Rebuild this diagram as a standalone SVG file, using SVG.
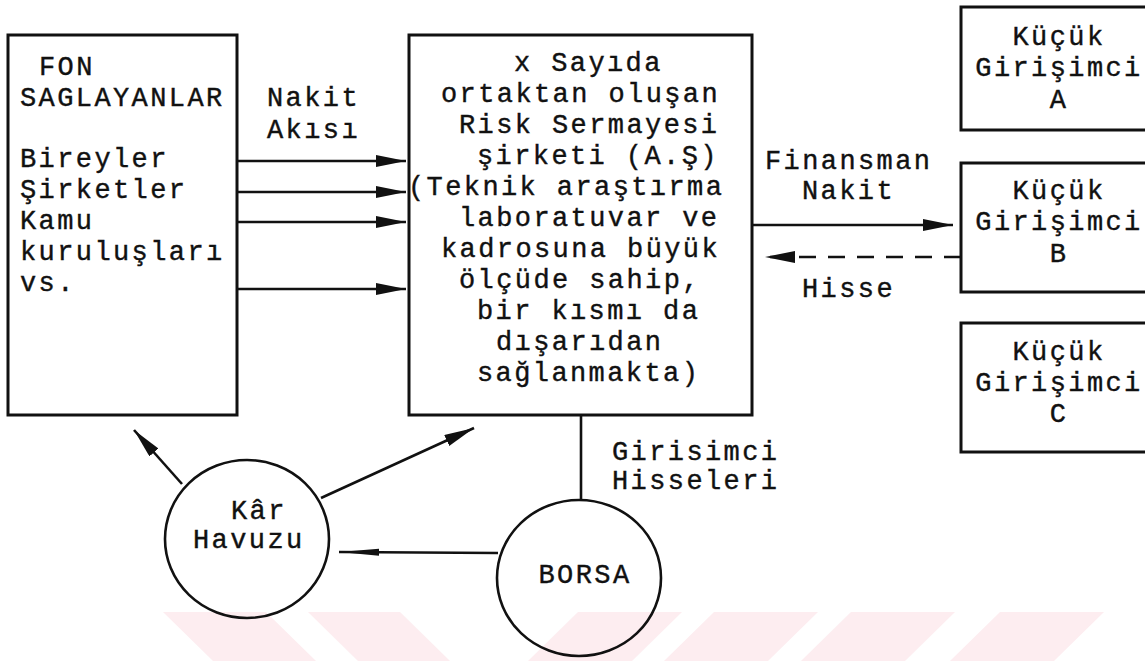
<svg xmlns="http://www.w3.org/2000/svg" width="1145" height="661" viewBox="0 0 1145 661">
  <style>
    .t{font-family:"Liberation Mono","DejaVu Sans Mono",monospace;font-size:27px;letter-spacing:2.4px;fill:#111;stroke:#111;stroke-width:0.4}
    .mid{text-anchor:middle}
    .box{fill:none;stroke:#111;stroke-width:3}
    .ln{fill:none;stroke:#111;stroke-width:2.6}
    .dash{stroke-dasharray:17 12}
    .wm{fill:#fdedf0}
  </style>
  <defs>
    <marker id="head" markerUnits="userSpaceOnUse" markerWidth="32" markerHeight="14" refX="30" refY="6" orient="auto">
      <path d="M0,0 L30,6 L0,12 Z" fill="#111"/>
    </marker>
    <marker id="headThin" markerUnits="userSpaceOnUse" markerWidth="42" markerHeight="10" refX="40" refY="4" orient="auto">
      <path d="M0,0.5 L40,4 L0,7.5 Z" fill="#111"/>
    </marker>
  </defs>

  <!-- background band pattern along the bottom edge -->
  <g id="bands">
    <polygon class="wm" points="163,612 266,612 316,661 213,661"/>
    <polygon class="wm" points="308,612 400,612 450,661 358,661"/>
    <polygon class="wm" points="578,612 682,612 632,661 528,661"/>
    <polygon class="wm" points="714,612 818,612 768,661 664,661"/>
    <polygon class="wm" points="851,612 955,612 905,661 801,661"/>
    <polygon class="wm" points="1000,612 1104,612 1054,661 950,661"/>
  </g>

  <g id="fon-saglayanlar">
    <rect class="box" x="8" y="35" width="229" height="380"/>
    <text class="t" x="39" y="75">FON</text>
    <text class="t" x="20" y="106">SAGLAYANLAR</text>
    <text class="t" x="20" y="167">Bireyler</text>
    <text class="t" x="20" y="198">Şirketler</text>
    <text class="t" x="20" y="229">Kamu</text>
    <text class="t" x="20" y="260">kuruluşları</text>
    <text class="t" x="20" y="291">vs.</text>
  </g>

  <g id="risk-sermayesi-sirketi">
    <rect class="box" x="409" y="35" width="343" height="380"/>
    <text class="t" x="514" y="71">x Sayıda</text>
    <text class="t" x="441" y="102">ortaktan oluşan</text>
    <text class="t" x="459" y="133">Risk Sermayesi</text>
    <text class="t" x="477" y="164">şirketi (A.Ş)</text>
    <text class="t" x="408" y="195">(Teknik araştırma</text>
    <text class="t" x="459" y="226">laboratuvar ve</text>
    <text class="t" x="441" y="257">kadrosuna büyük</text>
    <text class="t" x="459" y="288">ölçüde sahip,</text>
    <text class="t" x="477" y="319">bir kısmı da</text>
    <text class="t" x="496" y="350">dışarıdan</text>
    <text class="t" x="477" y="381">sağlanmakta)</text>
  </g>

  <g id="girisimci-a">
    <rect class="box" x="961" y="7" width="190" height="123"/>
    <text class="t mid" x="1059" y="45">Küçük</text>
    <text class="t mid" x="1059" y="76">Girişimci</text>
    <text class="t mid" x="1059" y="108">A</text>
  </g>

  <g id="girisimci-b">
    <rect class="box" x="961" y="163" width="190" height="129"/>
    <text class="t mid" x="1059" y="199">Küçük</text>
    <text class="t mid" x="1059" y="230">Girişimci</text>
    <text class="t mid" x="1059" y="262">B</text>
  </g>

  <g id="girisimci-c">
    <rect class="box" x="961" y="323" width="190" height="129"/>
    <text class="t mid" x="1059" y="360">Küçük</text>
    <text class="t mid" x="1059" y="391">Girişimci</text>
    <text class="t mid" x="1059" y="422">C</text>
  </g>

  <g id="kar-havuzu">
    <ellipse class="ln" cx="247" cy="539" rx="82" ry="79"/>
    <text class="t" x="231" y="519">Kâr</text>
    <text class="t" x="193" y="548">Havuzu</text>
  </g>

  <g id="borsa">
    <ellipse class="ln" cx="579" cy="578" rx="82" ry="78"/>
    <text class="t mid" x="585" y="583">BORSA</text>
  </g>

  <g id="connectors">
    <path class="ln" d="M237,161 H406" marker-end="url(#head)"/>
    <path class="ln" d="M237,192 H406" marker-end="url(#head)"/>
    <path class="ln" d="M237,222 H406" marker-end="url(#head)"/>
    <path class="ln" d="M237,289 H406" marker-end="url(#head)"/>
    <text class="t" x="267" y="106">Nakit</text>
    <text class="t" x="267" y="138">Akısı</text>

    <path class="ln" d="M752,225 H953" marker-end="url(#head)"/>
    <path class="ln dash" d="M961,257 H765" marker-end="url(#head)"/>
    <text class="t" x="765" y="169">Finansman</text>
    <text class="t" x="802" y="199">Nakit</text>
    <text class="t" x="802" y="297">Hisse</text>

    <path class="ln" d="M581,415 V500"/>
    <text class="t" x="612" y="460">Girisimci</text>
    <text class="t" x="612" y="489">Hisseleri</text>

    <path class="ln" d="M182,484 L134,430" marker-end="url(#head)"/>
    <path class="ln" d="M321,498 L474,428" marker-end="url(#head)"/>
    <path class="ln" d="M498,553 L339,552" marker-end="url(#headThin)"/>
  </g>
</svg>
